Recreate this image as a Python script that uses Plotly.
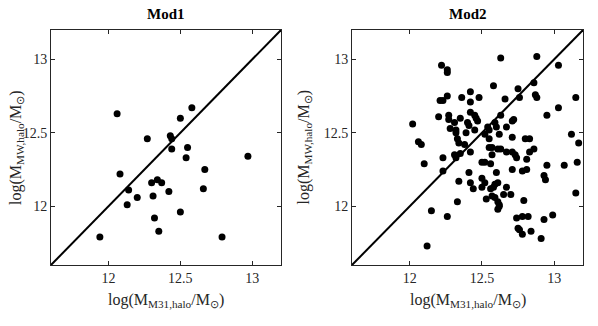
import plotly.graph_objects as go

# Mod1 sample: log halo masses
m31_mod1 = [12.06, 12.58, 12.50, 12.27, 12.43, 12.44, 12.44, 12.55, 12.54, 12.97,
            12.08, 12.67, 12.30, 12.34, 12.37, 12.14, 12.20, 12.31, 12.42, 12.66,
            12.13, 12.50, 12.32, 12.35, 11.94, 12.79]
mw_mod1 = [12.63, 12.67, 12.60, 12.46, 12.48, 12.46, 12.39, 12.40, 12.33, 12.34,
           12.22, 12.25, 12.16, 12.18, 12.16, 12.11, 12.06, 12.07, 12.10, 12.12,
           12.01, 11.96, 11.92, 11.83, 11.79, 11.79]

# Mod2 sample
m31_mod2 = [12.22, 12.26, 12.26, 12.63, 12.88, 13.03, 12.86, 12.58, 12.75, 12.42,
            12.36, 12.48, 12.42, 12.21, 12.23, 12.26, 12.66, 12.76, 12.87, 12.88,
            13.15, 13.03, 12.95, 12.63, 12.20, 12.27, 12.27, 12.35, 12.42, 12.45,
            12.46, 12.47, 12.40, 12.41, 12.72, 12.71, 12.59, 12.31, 12.02, 12.28,
            12.32, 12.45, 12.54, 12.55, 12.60, 12.67, 12.32, 12.39, 12.52, 12.62,
            12.06, 12.08, 12.33, 12.34, 12.38, 12.55, 12.71, 12.80, 12.83, 13.12,
            13.17, 12.86, 12.55, 12.57, 12.61, 12.63, 12.67, 12.71, 12.73, 12.74,
            12.83, 12.81, 12.42, 12.31, 12.32, 12.35, 12.23, 12.10, 12.23, 12.57,
            12.50, 12.52, 12.56, 12.71, 12.78, 12.81, 12.95, 13.07, 13.16, 12.41,
            12.60, 12.93, 12.94, 12.34, 12.42, 12.44, 12.50, 12.52, 12.50, 12.59,
            12.61, 12.56, 12.58, 12.67, 12.65, 12.70, 12.57, 12.59, 12.61, 12.62,
            12.62, 12.61, 12.53, 12.79, 13.15, 12.33, 12.15, 12.26, 12.74, 12.78,
            12.82, 12.93, 12.99, 12.75, 12.76, 12.78, 12.84, 12.91, 12.12]
mw_mod2 = [12.96, 12.93, 12.91, 13.01, 13.02, 12.96, 12.84, 12.82, 12.80, 12.78,
           12.74, 12.74, 12.71, 12.72, 12.72, 12.75, 12.73, 12.74, 12.76, 12.74,
           12.74, 12.67, 12.62, 12.62, 12.61, 12.62, 12.59, 12.60, 12.64, 12.62,
           12.60, 12.58, 12.57, 12.55, 12.59, 12.58, 12.57, 12.57, 12.56, 12.53,
           12.52, 12.52, 12.54, 12.52, 12.54, 12.54, 12.50, 12.50, 12.49, 12.49,
           12.44, 12.42, 12.46, 12.43, 12.42, 12.46, 12.47, 12.46, 12.46, 12.49,
           12.43, 12.39, 12.40, 12.40, 12.39, 12.39, 12.37, 12.37, 12.35, 12.33,
           12.37, 12.32, 12.37, 12.35, 12.33, 12.36, 12.33, 12.29, 12.24, 12.35,
           12.30, 12.30, 12.29, 12.25, 12.24, 12.25, 12.28, 12.28, 12.30, 12.23,
           12.23, 12.21, 12.18, 12.17, 12.16, 12.12, 12.19, 12.16, 12.13, 12.15,
           12.16, 12.12, 12.13, 12.13, 12.08, 12.08, 12.07, 12.06, 12.03, 12.01,
           12.00, 11.98, 12.05, 12.04, 12.09, 12.03, 11.97, 11.93, 11.92, 11.93,
           11.93, 11.91, 11.94, 11.85, 11.84, 11.81, 11.83, 11.78, 11.73]

axis_range = [11.6, 13.2]
tick_vals = [12, 12.5, 13]
tick_text = ["12", "12.5", "13"]
panel_titles = ["<b>Mod1</b>", "<b>Mod2</b>"]
x_label = "log(M<sub>M31,halo</sub>/M<sub>⊙</sub>)"
y_label = "log(M<sub>MW,halo</sub>/M<sub>⊙</sub>)"

FONT = "Liberation Serif"
INK = "#262626"

fig = go.Figure()

samples = [(m31_mod1, mw_mod1), (m31_mod2, mw_mod2)]
for i, (xs, ys) in enumerate(samples):
    xa = "x" if i == 0 else "x2"
    ya = "y" if i == 0 else "y2"
    # one-to-one line
    fig.add_trace(go.Scatter(x=axis_range, y=axis_range, mode="lines",
                             line=dict(color="black", width=2),
                             xaxis=xa, yaxis=ya, showlegend=False, hoverinfo="skip"))
    fig.add_trace(go.Scatter(x=xs, y=ys, mode="markers",
                             marker=dict(color="black", size=7),
                             xaxis=xa, yaxis=ya, showlegend=False))

x_domains = [[0.0, 0.4323], [0.5658, 1.0]]

def axis_style(domain, anchor):
    return dict(domain=domain, anchor=anchor, range=axis_range,
                tickvals=tick_vals, ticktext=tick_text, automargin=False,
                ticks="inside", ticklen=4, tickcolor=INK,
                showline=True, linecolor=INK, linewidth=1,
                mirror="allticks", showgrid=False, zeroline=False,
                tickfont=dict(family=FONT, size=14, color=INK))

fig.update_layout(
    width=598, height=326,
    margin=dict(l=51, r=15, t=30, b=61),
    paper_bgcolor="white", plot_bgcolor="white",
    xaxis=axis_style(x_domains[0], "y"),
    yaxis=axis_style([0, 1], "x"),
    xaxis2=axis_style(x_domains[1], "y2"),
    yaxis2=axis_style([0, 1], "x2"),
)

ylab_x = [-0.065, 0.4756]
for i, t in enumerate(panel_titles):
    cx = sum(x_domains[i]) / 2
    fig.add_annotation(text=t, xref="paper", yref="paper",
                       x=cx, y=1, yshift=6,
                       xanchor="center", yanchor="bottom", showarrow=False,
                       font=dict(family=FONT, size=15, color="black"))
    fig.add_annotation(text=x_label, xref="paper", yref="paper",
                       x=cx, y=-0.15, xanchor="center", yanchor="middle",
                       showarrow=False, font=dict(family=FONT, size=16, color=INK))
    fig.add_annotation(text=y_label, xref="paper", yref="paper", textangle=-90,
                       x=ylab_x[i], y=0.5, xanchor="center", yanchor="middle",
                       showarrow=False, font=dict(family=FONT, size=16, color=INK))

# drop the default page margin so the figure sits at the window corner
fig.write_html("out.html", config={"displayModeBar": False},
               post_script="document.body.style.margin = '0px';")
